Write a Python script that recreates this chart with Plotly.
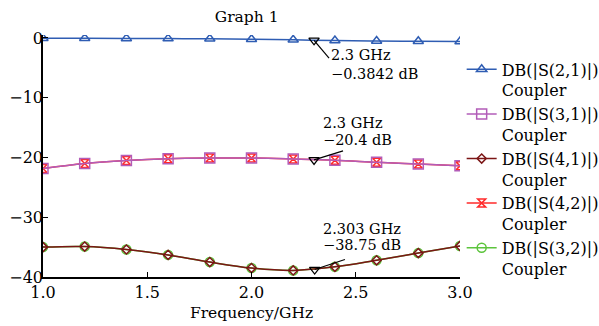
import plotly.graph_objects as go

freq = [1.0, 1.2, 1.4, 1.6, 1.8, 2.0, 2.2, 2.4, 2.6, 2.8, 3.0]
s21 = [-0.05, -0.05, -0.07, -0.1, -0.13, -0.2, -0.3, -0.43, -0.5, -0.55, -0.6]
s31 = [-21.85, -21.0, -20.5, -20.2, -20.1, -20.1, -20.25, -20.45, -20.8, -21.1, -21.4]
s41 = [-35.0, -34.9, -35.4, -36.3, -37.5, -38.5, -38.9, -38.3, -37.2, -36.0, -34.8]
s42 = [-21.85, -21.0, -20.5, -20.2, -20.1, -20.1, -20.25, -20.45, -20.8, -21.1, -21.4]
s32 = [-35.0, -34.9, -35.4, -36.3, -37.5, -38.5, -38.9, -38.3, -37.2, -36.0, -34.8]

marker_f = [2.3, 2.3, 2.303]
marker_db = [-0.3842, -20.4, -38.75]
marker_freq_text = ["2.3 GHz", "2.3 GHz", "2.303 GHz"]
marker_db_text = ["\u22120.3842 dB", "\u221220.4 dB", "\u221238.75 dB"]
label_pos = [(2.374, -2.85, -6.04), (2.331, -14.18, -17.06), (2.335, -31.93, -34.6)]
leader_end = [(2.372, -3.36), (2.439, -18.9), (2.448, -37.08)]

FONT = "DejaVu Serif"

series = [
    ("DB(|S(3,2)|)<br>Coupler", s32, "#5cc43c", "circle-open", 9, 5),
    ("DB(|S(4,2)|)<br>Coupler", s42, "#ff2a2a", "hourglass-open", 8, 4),
    ("DB(|S(2,1)|)<br>Coupler", s21, "#2f5db3", "triangle-up-open", 9, 1),
    ("DB(|S(3,1)|)<br>Coupler", s31, "#b25cb8", "square-open", 10, 2),
    ("DB(|S(4,1)|)<br>Coupler", s41, "#7b1515", "diamond-open", 7, 3),
]

fig = go.Figure()
for name, ys, col, sym, size, rank in series:
    fig.add_trace(go.Scatter(
        x=freq, y=ys, name=name, mode="lines+markers",
        line=dict(color=col, width=1.5, shape="spline"),
        marker=dict(symbol=sym, size=size, color=col, line=dict(width=1.5, color=col)),
        legendrank=rank,
    ))

fig.add_trace(go.Scatter(
    x=marker_f, y=marker_db, mode="markers", showlegend=False,
    marker=dict(symbol="triangle-down-open", size=9, color="black", line=dict(width=1.3, color="black")),
))

for f, db, (ex, ey), (tx, ty1, ty2), t1, t2 in zip(marker_f, marker_db, leader_end, label_pos,
                                                   marker_freq_text, marker_db_text):
    fig.add_shape(type="line", x0=f, y0=db, x1=ex, y1=ey, xref="x", yref="y",
                  line=dict(color="black", width=1.2))
    for ty, t in ((ty1, t1), (ty2, t2)):
        fig.add_annotation(x=tx, y=ty, xref="x", yref="y", text=t, showarrow=False,
                           xanchor="left", yanchor="middle", align="left",
                           font=dict(family=FONT, size=14.5, color="black"))

fig.update_layout(
    width=599, height=326,
    margin=dict(l=43, r=139, t=35, b=49, autoexpand=False),
    paper_bgcolor="white", plot_bgcolor="white",
    font=dict(family=FONT, size=16, color="black"),
    title=dict(text="Graph 1", x=246.7 / 599, xref="container", y=1 - 16.5 / 326, yref="container",
               xanchor="center", yanchor="middle", font=dict(family=FONT, size=15.5)),
    legend=dict(x=1.004, xanchor="left", y=0.928, yanchor="top", valign="top",
                font=dict(family=FONT, size=16), bgcolor="rgba(0,0,0,0)",
                tracegroupgap=0, maxheight=1.0),
    xaxis=dict(range=[1.0, 3.0], tickvals=[1.0, 1.5, 2.0, 2.5, 3.0],
               ticktext=["1.0", "1.5", "2.0", "2.5", "3.0"], automargin=False,
               showgrid=False, zeroline=False, showline=True, linecolor="black", linewidth=1.5,
               ticks="inside", ticklen=5, tickcolor="black",
               title=dict(text="Frequency/GHz", standoff=6, font=dict(family=FONT, size=15.5))),
    yaxis=dict(range=[-40, 0.5], tickvals=[0, -10, -20, -30, -40], automargin=False,
               showgrid=False, zeroline=False, showline=True, linecolor="black", linewidth=1.5,
               ticks="inside", ticklen=5, tickcolor="black", ticklabelstandoff=-5),
)

fig.write_html("out.html", config={"displayModeBar": False},
               post_script="document.body.style.margin='0';")
